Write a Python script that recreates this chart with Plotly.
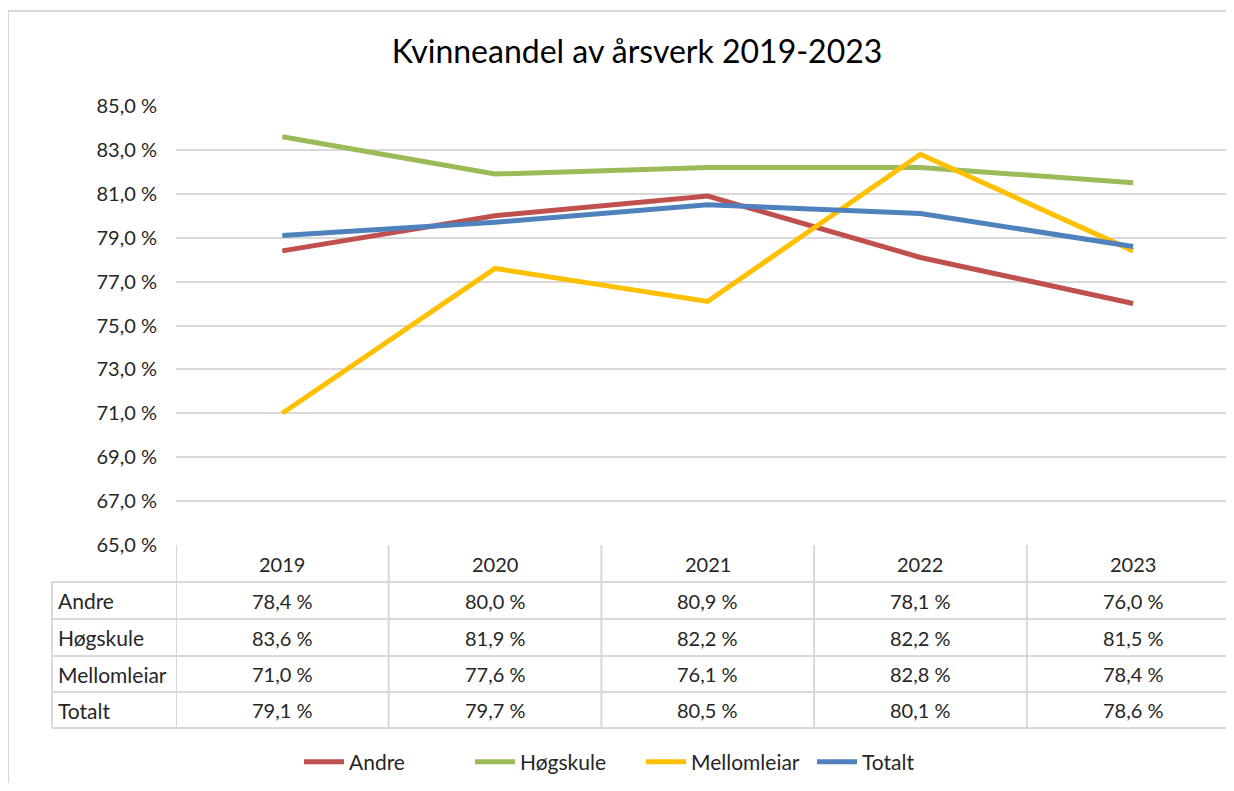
import plotly.graph_objects as go

years = ["2019", "2020", "2021", "2022", "2023"]
series_names = ["Andre", "Høgskule", "Mellomleiar", "Totalt"]
andre = [78.4, 80.0, 80.9, 78.1, 76.0]
hogskule = [83.6, 81.9, 82.2, 82.2, 81.5]
mellomleiar = [71.0, 77.6, 76.1, 82.8, 78.4]
totalt = [79.1, 79.7, 80.5, 80.1, 78.6]
colors = ["#C0504D", "#9BBB59", "#FFC000", "#4F81BD"]
y_ticks = [65, 67, 69, 71, 73, 75, 77, 79, 81, 83, 85]
title = "Kvinneandel av årsverk 2019-2023"

values = [andre, hogskule, mellomleiar, totalt]

# the page body adds an 8px margin; the figure is sized so the page is 1234x791
OFF = 8
W, H = 1234 - 2 * OFF, 791 - 2 * OFF
FONT = "Lato, 'Open Sans', sans-serif"
TXT = "#262626"
GRID = "#d9d9d9"


def py(px):  # page pixel from top -> paper y
    return 1 - (px - OFF) / H


def pxx(px):  # page pixel from left -> paper x
    return (px - OFF) / W


x_left_px = 176
col_w = 212.7
plot_top, plot_bot = 106, 545

fig = go.Figure()
idx = list(range(len(years)))
for name, vals, col in zip(series_names, values, colors):
    fig.add_trace(go.Scatter(x=idx, y=vals, name=name, mode="lines",
                             line=dict(color=col, width=5), hoverinfo="skip"))

x_end = -0.5 + (W + OFF - x_left_px) / col_w


def fmt(v):
    return f"{v:.1f}".replace(".", ",") + " %"


fig.update_layout(
    width=W, height=H, autosize=False,
    margin=dict(l=0, r=0, t=0, b=0, autoexpand=False),
    paper_bgcolor="white", plot_bgcolor="white",
    font=dict(family=FONT, color=TXT, size=17),
    title=dict(text=title, x=pxx(637), xanchor="center", y=py(52), yanchor="middle",
               font=dict(size=32, color="#000000", family=FONT)),
    xaxis=dict(domain=[pxx(x_left_px), 1], range=[-0.5, x_end], showticklabels=False,
               showgrid=False, zeroline=False, showline=False, fixedrange=True,
               automargin=False),
    yaxis=dict(domain=[py(plot_bot), py(plot_top)], range=[65, 85], tickvals=y_ticks,
               ticktext=[fmt(v) for v in y_ticks], showgrid=True, gridcolor=GRID,
               gridwidth=2, zeroline=False, showline=False, ticks="", ticklabelstandoff=18,
               tickfont=dict(size=20, color=TXT, family=FONT), automargin=False),
    legend=dict(orientation="h", x=pxx(641), xanchor="center", y=py(762), yanchor="middle",
                font=dict(size=21, color=TXT, family=FONT), itemwidth=40,
                entrywidth=116, entrywidthmode="pixels",
                bgcolor="rgba(0,0,0,0)", traceorder="normal"),
    showlegend=True,
)

shapes = []
# outer chart border
shapes.append(dict(type="rect", xref="paper", yref="paper", x0=pxx(8), x1=pxx(1400),
                   y0=py(900), y1=py(11), line=dict(color=GRID, width=2)))
# table rows
row_lines = [582, 619, 656, 692, 728]
table_bottom = row_lines[-1]
for r in row_lines:
    shapes.append(dict(type="line", xref="paper", yref="paper", x0=pxx(52), x1=1,
                       y0=py(r), y1=py(r), line=dict(color=GRID, width=2)))
# vertical lines between columns
for i in range(len(years) + 1):
    shapes.append(dict(type="line", xref="x", yref="paper", x0=i - 0.5, x1=i - 0.5,
                       y0=py(plot_bot), y1=py(table_bottom), line=dict(color=GRID, width=2)))
shapes.append(dict(type="line", xref="paper", yref="paper", x0=pxx(52), x1=pxx(52),
                   y0=py(row_lines[0]), y1=py(table_bottom), line=dict(color=GRID, width=2)))

annotations = []
header_c = (plot_bot + row_lines[0]) / 2
for i, yr in enumerate(years):
    annotations.append(dict(x=i, y=py(header_c), xref="x", yref="paper", text=yr,
                            showarrow=False, font=dict(size=20, color=TXT, family=FONT),
                            xanchor="center", yanchor="middle"))
for r, (name, vals) in enumerate(zip(series_names, values)):
    top = row_lines[r]
    bot = row_lines[r + 1] if r + 1 < len(row_lines) else table_bottom
    yc = (top + bot) / 2
    annotations.append(dict(x=pxx(56), y=py(yc), xref="paper", yref="paper", text=name,
                            showarrow=False, font=dict(size=21, color=TXT, family=FONT),
                            xanchor="left", yanchor="middle"))
    for i, v in enumerate(vals):
        annotations.append(dict(x=i, y=py(yc), xref="x", yref="paper", text=fmt(v),
                                showarrow=False, font=dict(size=20, color=TXT, family=FONT),
                                xanchor="center", yanchor="middle"))

fig.update_layout(shapes=shapes, annotations=annotations)
fig.write_html("out.html")
